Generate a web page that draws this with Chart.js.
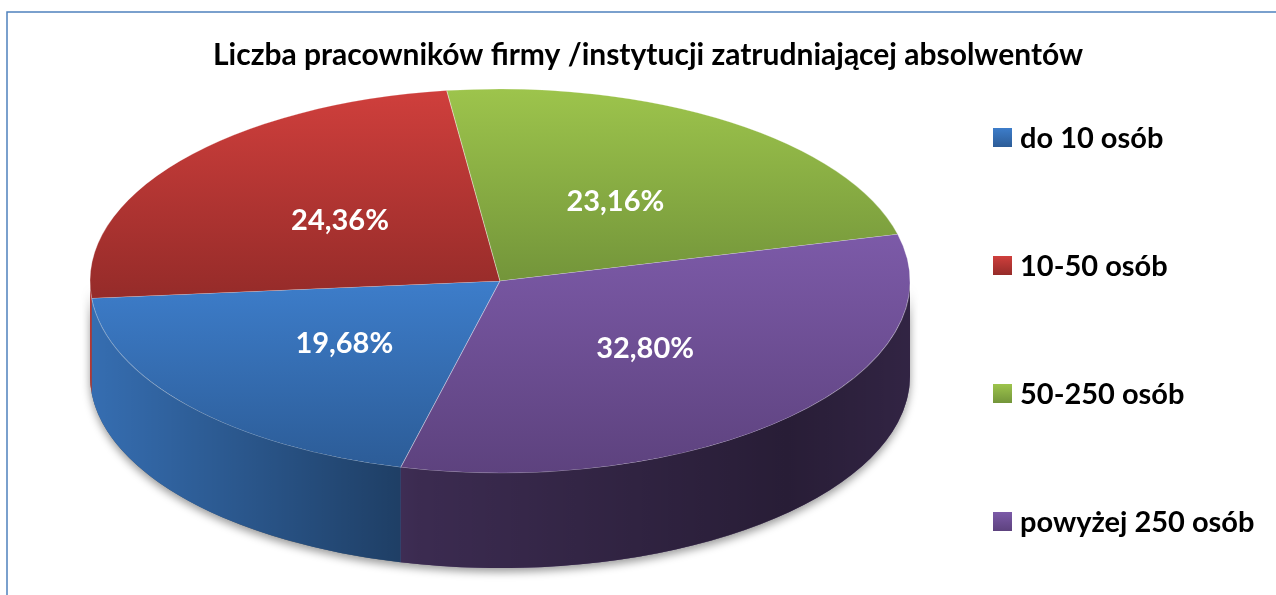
<!DOCTYPE html>
<html lang="pl">
<head>
<meta charset="utf-8">
<script src="https://cdn.jsdelivr.net/npm/chart.js@4.4.1/dist/chart.umd.min.js"></script>
<style>
    html, body { margin: 0; padding: 0; background: #fff; overflow: hidden; }
    #ramka { position: relative; width: 1276px; height: 595px; }
</style>
</head>
<body>
<div id="ramka"><canvas id="wykres" width="1276" height="595"></canvas></div>
<script>
const tytul = "Liczba pracowników firmy /instytucji zatrudniającej absolwentów";
const etykiety = ["do 10 osób", "10-50 osób", "50-250 osób", "powyżej 250 osób"];
const wartosci = [19.68, 24.36, 23.16, 32.8];
const koloryJasne = ["#3d7dca", "#cf3f3c", "#9dc44c", "#7c5aa8"];
const koloryCiemne = ["#2c5c97", "#952b29", "#73953a", "#5d427e"];

// wygląd "3D": środek i półosie górnej elipsy, wysokość boku
const SRODEK_X = 500, SRODEK_Y = 281;
const POLOS_X = 410, POLOS_Y = 192, GLEBOKOSC = 95;

function procent(v) {
    return v.toFixed(2).replace(".", ",") + "%";
}

function geometria(chart) {
    const el = chart.getDatasetMeta(0).data[0];
    const R = el.outerRadius;
    return { cx: el.x, cy: el.y, R: R, sx: POLOS_X / R, sy: POLOS_Y / R };
}

// odcinki łuku widoczne z przodu (0..PI)
function przod(a, b) {
    const wynik = [];
    for (let k = -2; k <= 2; k++) {
        const lo = Math.max(a, 2 * Math.PI * k);
        const hi = Math.min(b, 2 * Math.PI * k + Math.PI);
        if (hi > lo) wynik.push([lo, hi]);
    }
    return wynik;
}

const tortPlugin = {
    id: "tort3d",
    beforeDraw(chart) {
        const ctx = chart.ctx;
        ctx.save();
        ctx.strokeStyle = "#4f81bd";
        ctx.lineWidth = 1.5;
        ctx.beginPath();
        ctx.moveTo(7, 600);
        ctx.lineTo(7, 12);
        ctx.lineTo(1280, 12);
        ctx.stroke();
        ctx.restore();
    },
    beforeDatasetsDraw(chart) {
        const ctx = chart.ctx;
        const g = geometria(chart);
        const elementy = chart.getDatasetMeta(0).data;

        ctx.save();

        // cień pod tortem
        ctx.save();
        ctx.shadowColor = "rgba(0,0,0,0.4)";
        ctx.shadowBlur = 8;
        ctx.shadowOffsetY = 4;
        ctx.fillStyle = "#555";
        ctx.beginPath();
        ctx.ellipse(SRODEK_X, SRODEK_Y, POLOS_X, POLOS_Y, 0, 0, Math.PI, false);
        ctx.ellipse(SRODEK_X, SRODEK_Y + GLEBOKOSC, POLOS_X, POLOS_Y, 0, Math.PI, 0, true);
        ctx.closePath();
        ctx.fill();
        ctx.restore();

        const cieniowanie = ctx.createLinearGradient(SRODEK_X - POLOS_X, 0, SRODEK_X + POLOS_X, 0);
        cieniowanie.addColorStop(0, "rgba(0,0,0,0.12)");
        cieniowanie.addColorStop(0.4, "rgba(0,0,0,0.52)");
        cieniowanie.addColorStop(0.85, "rgba(0,0,0,0.68)");
        cieniowanie.addColorStop(1, "rgba(0,0,0,0.6)");

        elementy.forEach((el, i) => {
            przod(el.startAngle, el.endAngle).forEach(([t0, t1]) => {
                ctx.beginPath();
                ctx.ellipse(SRODEK_X, SRODEK_Y, POLOS_X, POLOS_Y, 0, t0, t1, false);
                ctx.ellipse(SRODEK_X, SRODEK_Y + GLEBOKOSC, POLOS_X, POLOS_Y, 0, t1, t0, true);
                ctx.closePath();
                ctx.fillStyle = koloryJasne[i];
                ctx.fill();
                ctx.fillStyle = cieniowanie;
                ctx.fill();
            });

            // gradient górnej ściany, w granicach wycinka
            let minS = 0, maxS = 0;
            const kroki = 40;
            for (let s = 0; s <= kroki; s++) {
                const t = el.startAngle + (el.endAngle - el.startAngle) * s / kroki;
                minS = Math.min(minS, Math.sin(t));
                maxS = Math.max(maxS, Math.sin(t));
            }
            const gr = ctx.createLinearGradient(0, g.cy + g.R * minS, 0, g.cy + g.R * maxS);
            gr.addColorStop(0, koloryJasne[i]);
            gr.addColorStop(1, koloryCiemne[i]);
            el.options.backgroundColor = gr;
        });

        ctx.translate(SRODEK_X, SRODEK_Y);
        ctx.scale(g.sx, g.sy);
        ctx.translate(-g.cx, -g.cy);
    },
    afterDatasetsDraw(chart) {
        const ctx = chart.ctx;
        ctx.restore();

        const g = geometria(chart);
        ctx.save();
        ctx.font = "bold 29px Lato";
        ctx.fillStyle = "#fff";
        ctx.textAlign = "center";
        ctx.textBaseline = "middle";
        chart.getDatasetMeta(0).data.forEach((el, i) => {
            const p = el.getCenterPoint();
            const x = SRODEK_X + (p.x - g.cx) * g.sx;
            const y = SRODEK_Y + (p.y - g.cy) * g.sy;
            ctx.fillText(procent(wartosci[i]), x, y);
        });
        ctx.restore();
    },
    afterDraw(chart) {
        // legenda po prawej
        const ctx = chart.ctx;
        ctx.save();
        ctx.font = "bold 29px Lato";
        ctx.textBaseline = "middle";
        ctx.textAlign = "left";
        etykiety.forEach((tekst, i) => {
            const y = 137.5 + i * 128;
            const gr = ctx.createLinearGradient(0, y - 9.5, 0, y + 9.5);
            gr.addColorStop(0, koloryJasne[i]);
            gr.addColorStop(1, koloryCiemne[i]);
            ctx.fillStyle = gr;
            ctx.fillRect(993, y - 9.5, 19, 19);
            ctx.fillStyle = "#000";
            ctx.fillText(tekst, 1020, y + 1);
        });
        ctx.restore();
    },
};

new Chart(document.getElementById("wykres").getContext("2d"), {
    type: "pie",
    data: {
        labels: etykiety,
        datasets: [
            {
                data: wartosci,
                backgroundColor: koloryJasne,
                borderColor: "rgba(255,255,255,0.35)",
                borderWidth: 0.6,
                hoverOffset: 0,
                clip: false,
            },
        ],
    },
    options: {
        responsive: false,
        animation: false,
        rotation: 194,
        layout: { padding: { left: 20, bottom: 20 } },
        plugins: {
            legend: { display: false },
            tooltip: { enabled: false },
            title: {
                display: true,
                text: tytul,
                color: "#000",
                font: { family: "Lato", size: 30, weight: "bold" },
                padding: { top: 37, bottom: 10 },
            },
        },
    },
    plugins: [tortPlugin],
});
</script>
</body>
</html>
